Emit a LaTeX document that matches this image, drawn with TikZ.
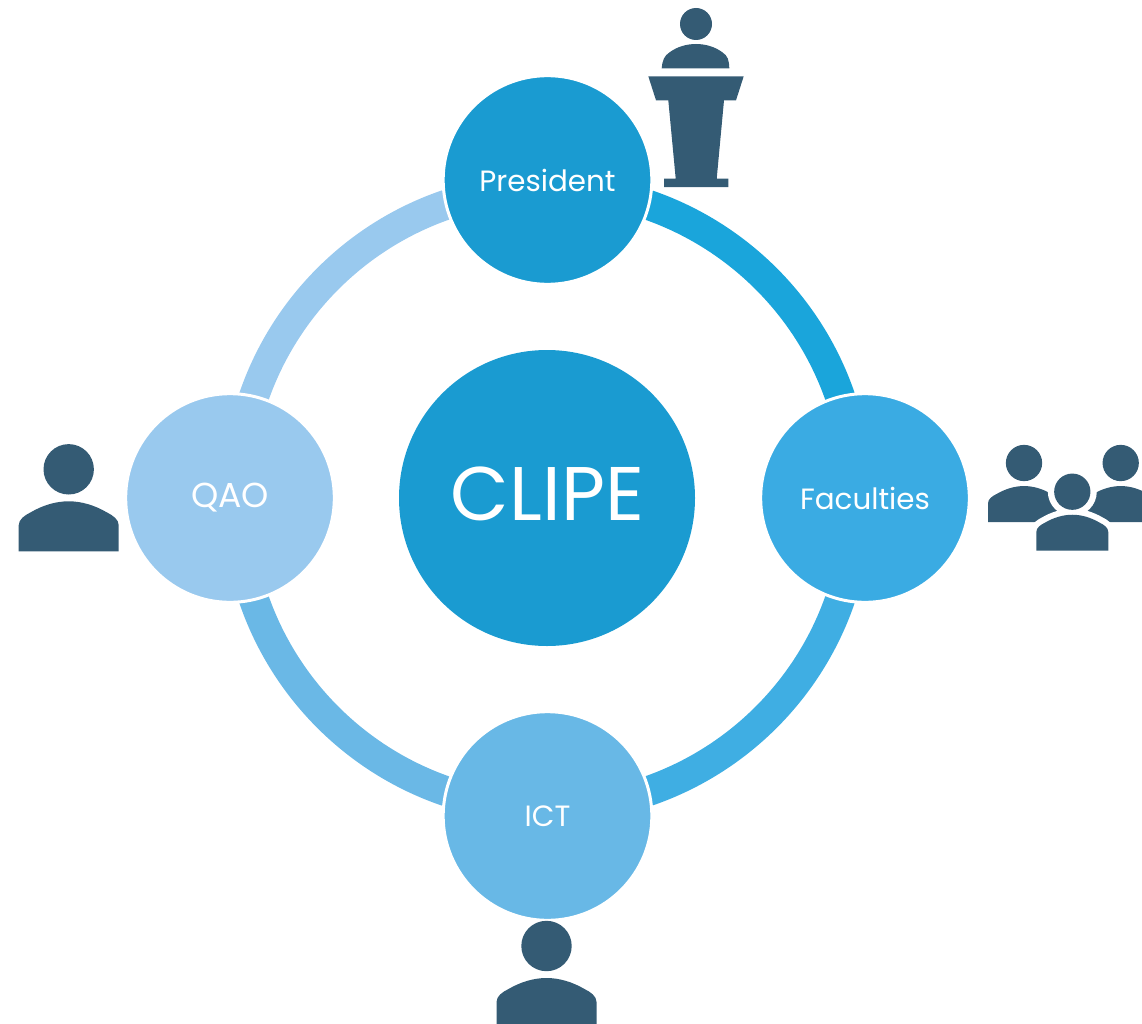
\documentclass[tikz,border=0pt]{standalone}
\usepackage{fontspec}
\setmainfont{Poppins}
\definecolor{hubc}{HTML}{1A9BD1}
\definecolor{presc}{HTML}{1A9BD1}
\definecolor{arcA}{HTML}{1AA5DB}
\definecolor{facc}{HTML}{3AABE3}
\definecolor{arcB}{HTML}{3FAEE3}
\definecolor{ictc}{HTML}{68B8E6}
\definecolor{arcC}{HTML}{6AB8E6}
\definecolor{qaoc}{HTML}{99C9EE}
\definecolor{iconc}{HTML}{345B74}
\tikzset{
  ball/.style={circle,draw=white,line width=2.25pt,inner sep=0pt,minimum size=156.5pt,text=white,font=\fontsize{22}{26}\selectfont},
  ring/.style={line width=22.5pt},
  icon/.style={fill=iconc,draw=none},
  halo/.style={fill=iconc,draw=white,line width=9pt},
}
\newcommand{\personbody}{(-50,82) -- (-50,56) .. controls (-50,50) and (-44,46) .. (-38,43) .. controls (-26,36) and (-13,32) .. (0,32) .. controls (13,32) and (26,36) .. (38,43) .. controls (44,46) and (50,50) .. (50,56) -- (50,82) -- cycle}
\begin{document}
\begin{tikzpicture}[x=.75pt,y=-.75pt]
\useasboundingbox (0,0) rectangle (1142,1024);
\clip (0,0) rectangle (1142,1024);
\node[circle,fill=hubc,inner sep=0pt,minimum size=222pt] (hub) at (547,498) {};
\node[text=white,font=\fontsize{57}{62}\selectfont,inner sep=0pt] (hubtext) at (547.5,494) {CLIPE};
\draw[ring,arcA] (hub.center) ++(90:232.5pt) arc[start angle=90,end angle=0,radius=232.5pt];
\draw[ring,arcB] (hub.center) ++(0:232.5pt) arc[start angle=0,end angle=-90,radius=232.5pt];
\draw[ring,arcC] (hub.center) ++(-90:232.5pt) arc[start angle=-90,end angle=-180,radius=232.5pt];
\draw[ring,qaoc] (hub.center) ++(180:232.5pt) arc[start angle=180,end angle=90,radius=232.5pt];
\node[ball,fill=presc] (pres) at (547.5,180) {President};
\node[ball,fill=facc] (fac) at (865,498) {Faculties};
\node[ball,fill=ictc] (ict) at (547.5,816) {ICT};
\node[ball,fill=qaoc,font=\fontsize{26}{30}\selectfont] (qao) at (230,498) {QAO};
% podium speaker
\fill[icon] (696,24) circle[radius=12pt];
\fill[icon] (661.7,68.3) .. controls (662.5,60) and (664,56) .. (670,52) .. controls (677,47) and (686,44) .. (696,44) .. controls (706,44) and (715,47) .. (722,52) .. controls (728,56) and (729,60) .. (729.3,68.3) -- cycle;
\fill[icon] (648.3,76.3) -- (743.7,76.3) -- (736,100.3) -- (724,100.3) -- (716.7,178.7) -- (728.3,178.7) -- (728.3,187) -- (664,187) -- (664,178.7) -- (675.7,178.7) -- (668.3,100.3) -- (656,100.3) -- cycle;
% QAO person
\begin{scope}[shift={(68.7,469.3)}]
\fill[icon] (0,0) circle[radius=18.9pt];
\fill[icon] \personbody;
\end{scope}
% ICT person
\begin{scope}[shift={(546.5,946)}]
\fill[icon] (0,0) circle[radius=18.9pt];
\fill[icon] \personbody;
\end{scope}
% Faculties group
\begin{scope}[shift={(1024,463)},scale=.72]
\fill[icon] (0,0) circle[radius=18.9pt];
\fill[icon] \personbody;
\end{scope}
\begin{scope}[shift={(1120.7,463)},scale=.72]
\fill[icon] (0,0) circle[radius=18.9pt];
\fill[icon] \personbody;
\end{scope}
\begin{scope}[shift={(1072.3,491.7)},scale=.72]
\fill[white] (0,0) circle[radius=25.5pt];
\path[halo] \personbody;
\fill[icon] (0,0) circle[radius=18.9pt];
\fill[icon] \personbody;
\end{scope}
\end{tikzpicture}
\end{document}
